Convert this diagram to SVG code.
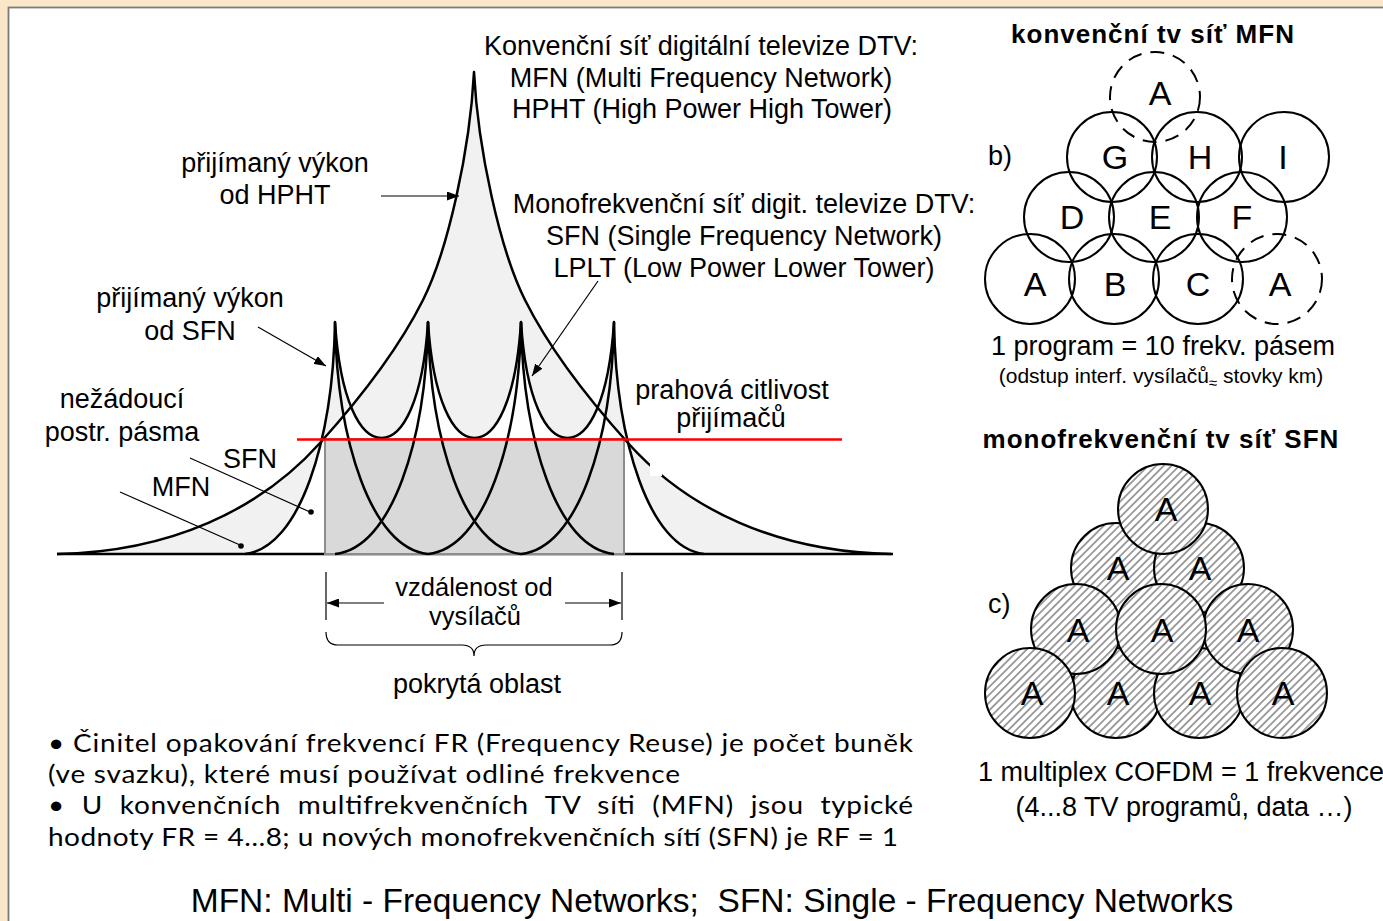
<svg xmlns="http://www.w3.org/2000/svg" width="1383" height="921" viewBox="0 0 1383 921">
<defs>
<style>
.t{font-family:"Liberation Sans",Arial,sans-serif;font-size:27px;fill:#000}
.m{text-anchor:middle}
.b{font-weight:bold;font-size:26px}
.cal{font-family:Lato,"Open Sans",sans-serif;font-size:28px;fill:#000}
.crv{fill:none;stroke:#000;stroke-width:2.5;stroke-linejoin:round}
.ptr{fill:none;stroke:#000;stroke-width:1.2}
.cell{fill:none;stroke:#000;stroke-width:2}
.dash{fill:none;stroke:#000;stroke-width:2;stroke-dasharray:14 9}
.sfn{fill:url(#hatch);stroke:#000;stroke-width:2}
.lt{font-size:34px}
</style>
<marker id="arr" viewBox="0 0 12 9" refX="12" refY="4.5" markerWidth="12" markerHeight="9" orient="auto" markerUnits="userSpaceOnUse">
<path d="M0,0 L12,4.5 L0,9 Z" fill="#000"/>
</marker>
<pattern id="hatch" patternUnits="userSpaceOnUse" width="5.5" height="5.5" patternTransform="rotate(45)">
<rect width="5.5" height="5.5" fill="#fff"/>
<line x1="2.75" y1="0" x2="2.75" y2="5.5" stroke="#555" stroke-width="1.1"/>
</pattern>
</defs>

<g id="frame">
<rect x="0" y="0" width="1383" height="921" fill="#FAE6C9"/>
<rect x="8.5" y="7.5" width="1400" height="1000" fill="#fff" stroke="#7a7a7a" stroke-width="1.8"/>
</g>

<g id="graph">
<path fill="#F1F1F1" fill-rule="evenodd" d="M57,554 C170,552 260,510 320,443 C356,403 398,350 423,300 C448,250 470,150 474,72 C478,150 500,250 525,300 C550,350 592,403 628,443 C688,510 778,552 891,554 Z M245,554 C300,548 333,440 335,322 C340,400 360,438 381.5,438 C403,438 423,400 428,322 C433,400 453,438 474.5,438 C496,438 516,400 521,322 C526,400 546,438 567.5,438 C589,438 609,400 614,322 C616,440 649,548 704,554 Z"/>
<line x1="57" y1="554" x2="893" y2="554" stroke="#000" stroke-width="2.5"/>
<rect x="325" y="439" width="299" height="115" fill="#D9D9D9" stroke="#8C8C8C" stroke-width="2"/>
<path class="crv" d="M57,554 C170,552 260,510 320,443 C356,403 398,350 423,300 C448,250 470,150 474,72 C478,150 500,250 525,300 C550,350 592,403 628,443 C688,510 778,552 891,554"/>
<path class="crv" d="M245,554 C300,548 333,440 335,322 C340,400 360,438 381.5,438 C403,438 423,400 428,322 C433,400 453,438 474.5,438 C496,438 516,400 521,322 C526,400 546,438 567.5,438 C589,438 609,400 614,322 C616,440 649,548 704,554"/>
<path class="crv" d="M335,322 C337,440 371,548 428,554"/>
<path class="crv" d="M428,322 C430,440 464,548 521,554"/>
<path class="crv" d="M521,322 C523,440 557,548 614,554"/>
<path class="crv" d="M428,322 C426,440 392,548 335,554"/>
<path class="crv" d="M521,322 C519,440 485,548 428,554"/>
<path class="crv" d="M614,322 C612,440 578,548 521,554"/>
<rect x="650" y="462" width="12" height="14" fill="#fff"/>
<line x1="297" y1="439.5" x2="842" y2="439.5" stroke="#FF0000" stroke-width="2.5"/>
</g>

<g id="connectors">
<line class="ptr" x1="381" y1="196" x2="459" y2="196" marker-end="url(#arr)"/>
<line class="ptr" x1="258" y1="327" x2="326" y2="366" marker-end="url(#arr)"/>
<line class="ptr" x1="598" y1="281" x2="532" y2="376" marker-end="url(#arr)"/>
<line class="ptr" x1="190" y1="458" x2="310" y2="512"/>
<circle cx="311" cy="512" r="2.8" fill="#000"/>
<line class="ptr" x1="120" y1="492" x2="240" y2="545"/>
<circle cx="241" cy="546" r="2.8" fill="#000"/>
<line class="ptr" x1="326" y1="572" x2="326" y2="620"/>
<line class="ptr" x1="622" y1="572" x2="622" y2="620"/>
<line class="ptr" x1="384" y1="603" x2="327" y2="603" marker-end="url(#arr)"/>
<line class="ptr" x1="565" y1="603" x2="621" y2="603" marker-end="url(#arr)"/>
<path class="ptr" d="M326,632 Q326,645 338,645 L462,645 Q474,645 474,656 Q474,645 486,645 L610,645 Q622,645 622,632"/>
</g>

<g id="labels-graph">
<text class="t m" x="701" y="55">Konvenční síť digitální televize DTV:</text>
<text class="t m" x="701" y="87">MFN (Multi Frequency Network)</text>
<text class="t m" x="702" y="118">HPHT (High Power High Tower)</text>
<text class="t m" x="744" y="213">Monofrekvenční síť digit. televize DTV:</text>
<text class="t m" x="744" y="245">SFN (Single Frequency Network)</text>
<text class="t m" x="744" y="277">LPLT (Low Power Lower Tower)</text>
<text class="t m" x="275" y="172">přijímaný výkon</text>
<text class="t m" x="275" y="204">od HPHT</text>
<text class="t m" x="190" y="307">přijímaný výkon</text>
<text class="t m" x="190" y="340">od SFN</text>
<text class="t m" x="122" y="408">nežádoucí</text>
<text class="t m" x="122" y="441">postr. pásma</text>
<text class="t m" x="250" y="468">SFN</text>
<text class="t m" x="181" y="496">MFN</text>
<text class="t m" x="732" y="399">prahová citlivost</text>
<text class="t m" x="731" y="427">přijímačů</text>
<text class="t m" x="474" y="596" style="font-size:25.5px">vzdálenost od</text>
<text class="t m" x="475" y="625" style="font-size:25.5px">vysílačů</text>
<text class="t m" x="477" y="693">pokrytá oblast</text>
</g>

<g id="mfn-cells">
<text class="t m b" x="1153" y="43" style="letter-spacing:1px">konvenční tv síť MFN</text>
<text class="t" x="988" y="165">b)</text>
<circle class="dash" cx="1155" cy="97" r="45"/>
<circle class="cell" cx="1112" cy="157" r="45"/>
<circle class="cell" cx="1197" cy="157" r="45"/>
<circle class="cell" cx="1284" cy="157" r="45"/>
<circle class="cell" cx="1069" cy="217" r="45"/>
<circle class="cell" cx="1154" cy="217" r="45"/>
<circle class="cell" cx="1242" cy="217" r="45"/>
<circle class="cell" cx="1030" cy="279" r="45"/>
<circle class="cell" cx="1114" cy="279" r="45"/>
<circle class="cell" cx="1198" cy="279" r="45"/>
<circle class="dash" cx="1277" cy="279" r="45"/>
<text class="t m lt" x="1160" y="105">A</text>
<text class="t m lt" x="1115" y="169">G</text>
<text class="t m lt" x="1200" y="169">H</text>
<text class="t m lt" x="1283" y="169">I</text>
<text class="t m lt" x="1072" y="229">D</text>
<text class="t m lt" x="1160" y="229">E</text>
<text class="t m lt" x="1242" y="229">F</text>
<text class="t m lt" x="1035" y="296">A</text>
<text class="t m lt" x="1115" y="296">B</text>
<text class="t m lt" x="1198" y="296">C</text>
<text class="t m lt" x="1280" y="296">A</text>
<text class="t m" x="1163" y="355">1 program = 10 frekv. pásem</text>
<text class="t m" x="1161" y="383" style="font-size:21px">(odstup interf. vysílačů<tspan style="font-size:15px" dy="5">≈</tspan><tspan dy="-5"> stovky km)</tspan></text>
</g>

<g id="sfn-cells">
<text class="t m b" x="1161" y="448" style="letter-spacing:1px">monofrekvenční tv síť SFN</text>
<text class="t" x="988" y="613">c)</text>
<circle class="sfn" cx="1116" cy="693" r="45"/>
<circle class="sfn" cx="1199" cy="693" r="45"/>
<circle class="sfn" cx="1116" cy="568" r="45"/>
<circle class="sfn" cx="1199" cy="568" r="45"/>
<circle class="sfn" cx="1076" cy="629" r="45"/>
<circle class="sfn" cx="1248" cy="629" r="45"/>
<circle class="sfn" cx="1161" cy="629" r="45"/>
<circle class="sfn" cx="1030" cy="693" r="45"/>
<circle class="sfn" cx="1282" cy="693" r="45"/>
<circle class="sfn" cx="1163" cy="509" r="45"/>
<text class="t m lt" x="1166" y="521">A</text>
<text class="t m lt" x="1118" y="580">A</text>
<text class="t m lt" x="1200" y="580">A</text>
<text class="t m lt" x="1078" y="642">A</text>
<text class="t m lt" x="1162" y="642">A</text>
<text class="t m lt" x="1248" y="642">A</text>
<text class="t m lt" x="1032" y="705">A</text>
<text class="t m lt" x="1118" y="705">A</text>
<text class="t m lt" x="1200" y="705">A</text>
<text class="t m lt" x="1283" y="705">A</text>
<text class="t m" x="1181" y="781">1 multiplex COFDM = 1 frekvence</text>
<text class="t m" x="1184" y="816">(4...8 TV programů, data …)</text>
</g>

<g id="notes">
<g transform="scale(1,0.9)">
<text class="cal" x="48" y="835.6" textLength="865" lengthAdjust="spacing">• Činitel opakování frekvencí FR (Frequency Reuse) je počet buněk</text>
<text class="cal" x="48" y="870" textLength="632" lengthAdjust="spacing">(ve svazku), které musí používat odliné frekvence</text>
<text class="cal" x="48" y="904.4" textLength="865" lengthAdjust="spacing" style="word-spacing:9px">• U konvenčních multifrekvenčních TV síti (MFN) jsou typické</text>
<text class="cal" x="48" y="940" textLength="850" lengthAdjust="spacing">hodnoty FR = 4…8; u nových monofrekvenčních sítí (SFN) je RF = 1</text>
</g>
<text class="t m" x="712" y="912" style="font-size:33.5px;white-space:pre">MFN: Multi - Frequency Networks;  SFN: Single - Frequency Networks</text>
</g>
</svg>
